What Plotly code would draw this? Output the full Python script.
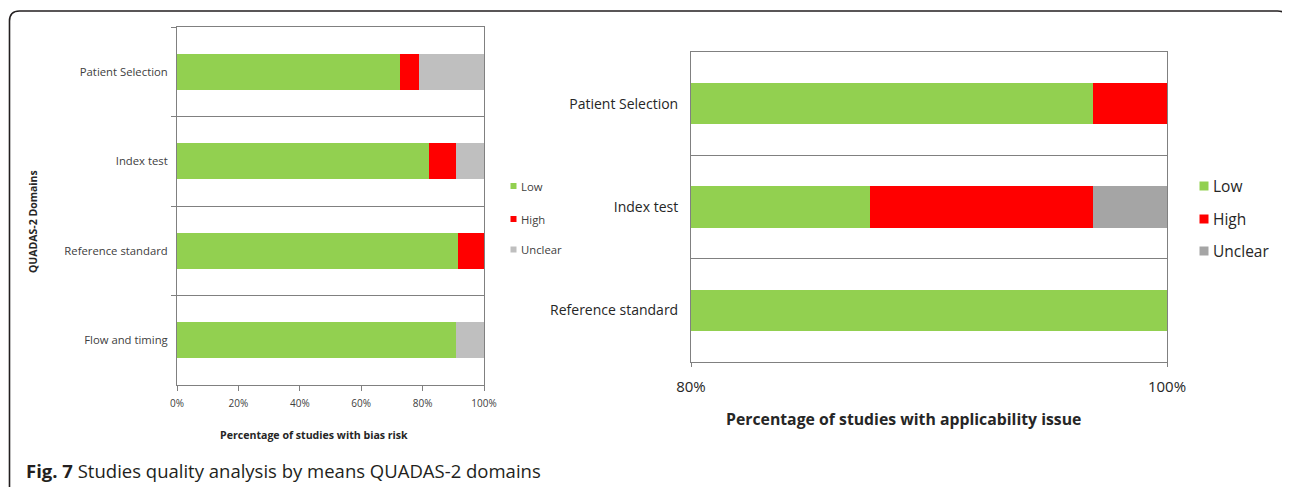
import plotly.graph_objects as go

# ---------------- data ----------------
bias_domains = ["Patient Selection", "Index test", "Reference standard", "Flow and timing"]
bias_low = [72.6, 82.1, 91.4, 90.9]
bias_high = [6.2, 8.8, 8.6, 0.0]
bias_unclear = [21.2, 9.1, 0.0, 9.1]

appl_domains = ["Patient Selection", "Index test", "Reference standard"]
appl_low = [96.875, 87.5, 100.0]
appl_high = [3.125, 9.375, 0.0]
appl_unclear = [0.0, 3.125, 0.0]

bias_ticks = [0, 20, 40, 60, 80, 100]
bias_ticktext = ["0%", "20%", "40%", "60%", "80%", "100%"]
appl_ticks = [80, 100]
appl_ticktext = ["80%", "100%"]

legend_names = ["Low", "High", "Unclear"]

# ---------------- styling ----------------
# the page body keeps an 8px margin; the figure fills the rest of the window
OFF = 8
W, H = 1290 - OFF, 487 - OFF
FONT = "Open Sans"
GREEN = "#92D050"
RED = "#FF0000"
GREY_L = "#BFBFBF"
GREY_R = "#A5A5A5"
AXC = "#808080"


def px(x):
    # page pixel -> paper fraction
    return (x - OFF) / W


def py(y):
    return 1 - (y - OFF) / H


fig = go.Figure()

for vals, name, col in zip([bias_low, bias_high, bias_unclear], legend_names, [GREEN, RED, GREY_L]):
    fig.add_trace(go.Bar(y=bias_domains, x=vals, name=name, orientation="h",
                         marker=dict(color=col, line=dict(width=0)),
                         width=0.4, xaxis="x", yaxis="y", showlegend=False))

for vals, name, col in zip([appl_low, appl_high, appl_unclear], legend_names, [GREEN, RED, GREY_R]):
    fig.add_trace(go.Bar(y=appl_domains, x=vals, name=name, orientation="h",
                         marker=dict(color=col, line=dict(width=0)),
                         width=0.4, xaxis="x2", yaxis="y2", showlegend=False))

shapes = []
annotations = []

# legends drawn manually (left small, right large)
left_leg_y = [186, 219, 249.5]
for name, col, yc in zip(legend_names, [GREEN, RED, GREY_L], left_leg_y):
    shapes.append(dict(type="rect", xref="paper", yref="paper",
                       x0=px(510.5), x1=px(516.5), y0=py(yc + 3), y1=py(yc - 3),
                       fillcolor=col, line=dict(width=0)))
    annotations.append(dict(text=name, xref="paper", yref="paper", x=px(519), y=py(yc),
                            xanchor="left", yanchor="middle", showarrow=False,
                            font=dict(family=FONT, size=11.3, color="#404040")))

right_leg_y = [186, 219, 251]
for name, col, yc in zip(legend_names, [GREEN, RED, GREY_R], right_leg_y):
    shapes.append(dict(type="rect", xref="paper", yref="paper",
                       x0=px(1199.5), x1=px(1208.5), y0=py(yc + 4.5), y1=py(yc - 4.5),
                       fillcolor=col, line=dict(width=0)))
    annotations.append(dict(text=name, xref="paper", yref="paper", x=px(1211), y=py(yc),
                            xanchor="left", yanchor="middle", showarrow=False,
                            font=dict(family=FONT, size=15.5, color="#262626")))

# axis titles
annotations.append(dict(text="<b>Percentage of studies with bias risk</b>", xref="paper", yref="paper",
                        x=px(314), y=py(435), xanchor="center", yanchor="middle", showarrow=False,
                        font=dict(family=FONT, size=10.6, color="#262626")))
annotations.append(dict(text="<b>QUADAS-2 Domains</b>", xref="paper", yref="paper",
                        x=px(33), y=py(222), xanchor="center", yanchor="middle", showarrow=False,
                        textangle=-90, font=dict(family=FONT, size=10.5, color="#262626")))
annotations.append(dict(text="<b>Percentage of studies with applicability issue</b>", xref="paper", yref="paper",
                        x=px(903), y=py(419), xanchor="center", yanchor="middle", showarrow=False,
                        font=dict(family=FONT, size=15.8, color="#262626")))

# caption
annotations.append(dict(text="<b>Fig. 7</b> Studies quality analysis by means QUADAS-2 domains",
                        xref="paper", yref="paper", x=px(24), y=py(470), xanchor="left", yanchor="middle",
                        showarrow=False, font=dict(family="Open Sans", size=18.5, color="#231F20")))

# outer rounded frame (open at the bottom)
r = 10
x0, x1, y0, yb = 9.5, 1287.5, 11, 500
frame = (f"M {px(x0)},{py(yb)} L {px(x0)},{py(y0 + r)} "
         f"Q {px(x0)},{py(y0)} {px(x0 + r)},{py(y0)} "
         f"L {px(x1 - r)},{py(y0)} Q {px(x1)},{py(y0)} {px(x1)},{py(y0 + r)} "
         f"L {px(x1)},{py(yb)}")
shapes.append(dict(type="path", xref="paper", yref="paper", path=frame,
                   line=dict(color="#231F20", width=1.6)))

fig.update_layout(
    width=W, height=H,
    margin=dict(l=0, r=0, t=0, b=0, autoexpand=False),
    paper_bgcolor="white", plot_bgcolor="white",
    barmode="stack", bargap=0.6,
    showlegend=False,
    shapes=shapes, annotations=annotations,
    xaxis=dict(domain=[px(177), px(484)], range=[0, 100], tickvals=bias_ticks, ticktext=bias_ticktext,
               ticks="outside", ticklen=5, tickcolor=AXC, showline=True, linecolor=AXC, mirror=True,
               showgrid=False, zeroline=False, ticklabelstandoff=4, automargin=False,
               tickfont=dict(family=FONT, size=10, color="#404040"), anchor="y"),
    yaxis=dict(domain=[py(385), py(27)], type="category", categoryorder="array", categoryarray=bias_domains,
               autorange="reversed", tickson="boundaries", ticks="outside", ticklen=5, tickcolor=AXC,
               showgrid=True, gridcolor=AXC, gridwidth=1.2, showline=True, linecolor=AXC, mirror=True,
               automargin=False, ticklabelstandoff=6,
               tickfont=dict(family=FONT, size=11.3, color="#404040"), anchor="x"),
    xaxis2=dict(domain=[px(691), px(1167)], range=[80, 100], tickvals=appl_ticks, ticktext=appl_ticktext,
                ticks="outside", ticklen=4, tickcolor=AXC, showline=True, linecolor=AXC, mirror=True,
                showgrid=False, zeroline=False, ticklabelstandoff=7, automargin=False,
                tickfont=dict(family=FONT, size=15, color="#262626"), anchor="y2"),
    yaxis2=dict(domain=[py(362), py(52)], type="category", categoryorder="array", categoryarray=appl_domains,
                autorange="reversed", tickson="boundaries", ticks="outside", ticklen=0, tickcolor=AXC,
                showgrid=True, gridcolor=AXC, gridwidth=1.2, showline=True, linecolor=AXC, mirror=True,
                ticklabelstandoff=9, automargin=False,
                tickfont=dict(family=FONT, size=14, color="#262626"), anchor="x2"),
)

fig.write_html("out.html")
